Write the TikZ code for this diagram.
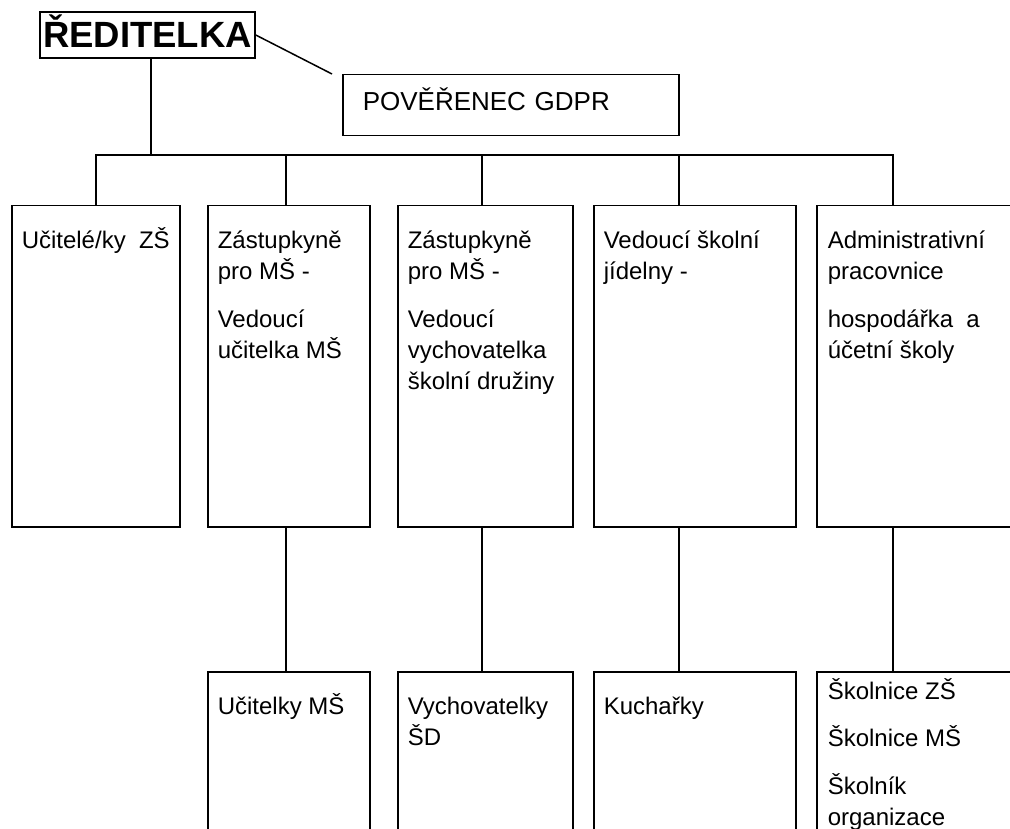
\documentclass[tikz,border=0pt]{standalone}
\usepackage{fontspec}
\setmainfont{Liberation Sans}
\usetikzlibrary{positioning}
\newcommand{\boxstrut}{\rule{0pt}{24pt}}

\begin{document}
\begin{tikzpicture}[x=1pt, y=-1pt, line width=1.5pt,
  unit/.style={draw, anchor=north west, inner sep=0pt, minimum height=321pt},
  staff/.style={draw, anchor=north west, inner sep=0pt, minimum height=200pt},
  txt/.style={anchor=north west, inner sep=0pt, align=left, font=\fontsize{24}{31}\selectfont}]
\useasboundingbox (0,0) rectangle (1010,829);
\clip (0,0) rectangle (1010,829);

\node[draw, minimum width=215pt, minimum height=46pt, inner sep=0pt, text height=26pt, text depth=0pt, font=\fontsize{36.5}{40}\selectfont\bfseries] (reditelka) at (147.5,35) {ŘEDITELKA};
\node[draw, anchor=north west, minimum height=61pt, inner xsep=20pt, inner ysep=0pt, text width=296pt, align=left, text height=19pt, text depth=8pt, font=\fontsize{26}{30}\selectfont] (gdpr) at (342,74) {POVĚŘENEC GDPR};
\coordinate (gdprend) at (332,74);
\draw (reditelka.east) -- (gdprend);

\node[unit, minimum width=168pt] (ucitele) at (11,205) {};
\node[unit, minimum width=162pt] (zastms) at (207,205) {};
\node[unit, minimum width=175pt] (zastsd) at (397,205) {};
\node[unit, minimum width=202pt] (jidelna) at (593,205) {};
\node[unit, minimum width=250pt] (admin) at (816,205) {};

\node[staff, minimum width=162pt] (ucitelky) at (207,671) {};
\node[staff, minimum width=175pt] (vychovatelky) at (397,671) {};
\node[staff, minimum width=202pt] (kucharky) at (593,671) {};
\node[staff, minimum width=250pt] (skolnice) at (816,671) {};

\node[txt, below right=19pt and 10pt of ucitele.north west] (t-ucitele) {\boxstrut Učitelé/ky\ \ ZŠ};
\node[txt, below right=19pt and 10pt of zastms.north west] (t-zastms) {\boxstrut Zástupkyně\\ pro MŠ -\\[17pt] Vedoucí\\ učitelka MŠ};
\node[txt, below right=19pt and 10pt of zastsd.north west] (t-zastsd) {\boxstrut Zástupkyně\\ pro MŠ -\\[17pt] Vedoucí\\ vychovatelka\\ školní družiny};
\node[txt, below right=19pt and 10pt of jidelna.north west] (t-jidelna) {\boxstrut Vedoucí školní\\ jídelny -};
\node[txt, below right=19pt and 11pt of admin.north west] (t-admin) {\boxstrut Administrativní\\ pracovnice\\[17pt] hospodářka\ \ a\\ účetní školy};

\node[txt, below right=19pt and 10pt of ucitelky.north west] (t-ucitelky) {\boxstrut Učitelky MŠ};
\node[txt, below right=19pt and 10pt of vychovatelky.north west] (t-vychovatelky) {\boxstrut Vychovatelky\\ ŠD};
\node[txt, below right=19pt and 10pt of kucharky.north west] (t-kucharky) {\boxstrut Kuchařky};
\node[txt, below right=4pt and 11pt of skolnice.north west] (t-skolnice) {\boxstrut Školnice ZŠ\\[16pt] Školnice MŠ\\[17pt] Školník\\ organizace};

\coordinate (hub) at (151,155);
\coordinate (b1) at (96,155);
\coordinate (b2) at (286,155);
\coordinate (b3) at (482,155);
\coordinate (b4) at (679,155);
\coordinate (b5) at (893,155);
\draw (reditelka.south -| hub) -- (hub);
\draw (b1 |- ucitele.north) -- (b1) -- (b5) -- (b5 |- admin.north);
\foreach \b/\u in {b2/zastms, b3/zastsd, b4/jidelna}
  \draw (\b) -- (\b |- \u.north);
\foreach \b/\u/\s in {b2/zastms/ucitelky, b3/zastsd/vychovatelky, b4/jidelna/kucharky, b5/admin/skolnice}
  \draw (\b |- \u.south) -- (\b |- \s.north);
\end{tikzpicture}
\end{document}
